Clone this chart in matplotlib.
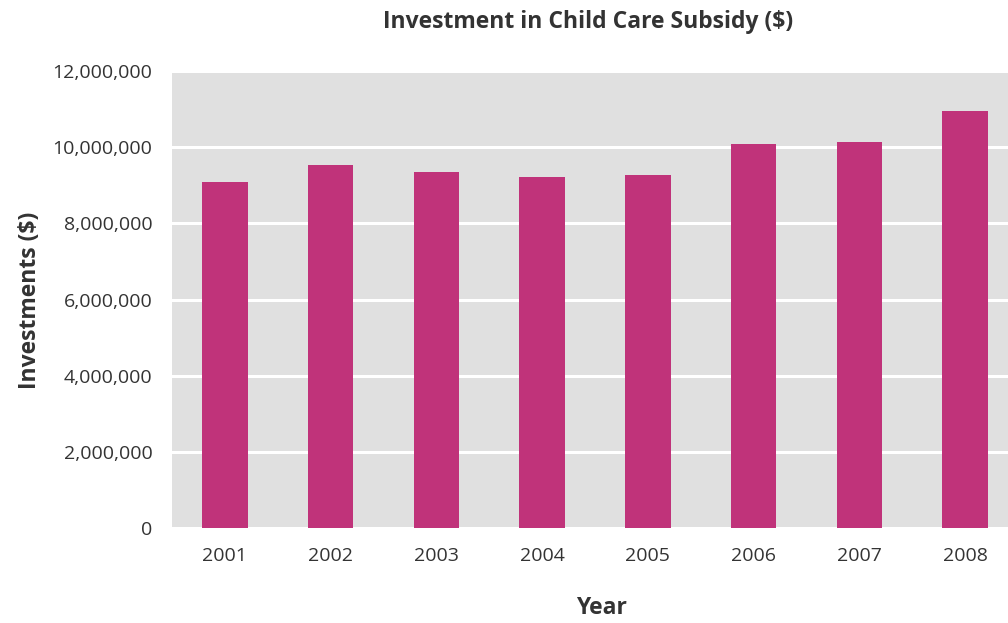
import matplotlib
matplotlib.use("Agg")
import matplotlib.pyplot as plt
from matplotlib.ticker import FuncFormatter

years = ["2001", "2002", "2003", "2004", "2005", "2006", "2007", "2008"]
investments = [9090000, 9540000, 9350000, 9220000, 9270000, 10090000, 10140000, 10950000]

bar_color = "#C0337A"
text_color = "#333333"

plt.rcParams["font.family"] = ["Open Sans", "DejaVu Sans"]

fig = plt.figure(figsize=(10.08, 6.23), dpi=100)
# axes runs slightly past the right edge of the figure
ax = fig.add_axes([172 / 1008, 1 - 528 / 623, 846 / 1008, (528 - 71.2) / 623])
ax.set_facecolor("#E0E0E0")

x = range(len(years))
ax.bar(x, investments, width=0.43, color=bar_color, zorder=3)

ax.set_xlim(-0.5, len(years) - 0.5)
ax.set_ylim(0, 12000000)
ax.set_yticks(range(0, 12000001, 2000000))
ax.yaxis.set_major_formatter(FuncFormatter(lambda v, p: f"{int(v):,}"))
ax.set_xticks(list(x))
ax.set_xticklabels(years)

ax.grid(axis="y", color="white", linewidth=2.2, zorder=1)
for s in ax.spines.values():
    s.set_visible(False)
ax.tick_params(length=0, labelsize=14, labelcolor=text_color)
ax.tick_params(axis="y", pad=14)
ax.tick_params(axis="x", pad=14)

fig.text(588 / 1008, 1 - 22 / 623, "Investment in Child Care Subsidy ($)", ha="center", va="center",
         fontsize=16.5, fontweight="bold", color=text_color)
fig.text(30 / 1008, 1 - 300 / 623, "Investments ($)", ha="center", va="center", rotation=90,
         fontsize=16.5, fontweight="bold", color=text_color)
fig.text(601 / 1008, 1 - 608 / 623, "Year", ha="center", va="center",
         fontsize=16.5, fontweight="bold", color=text_color)

fig.savefig("out.png", dpi=100)
